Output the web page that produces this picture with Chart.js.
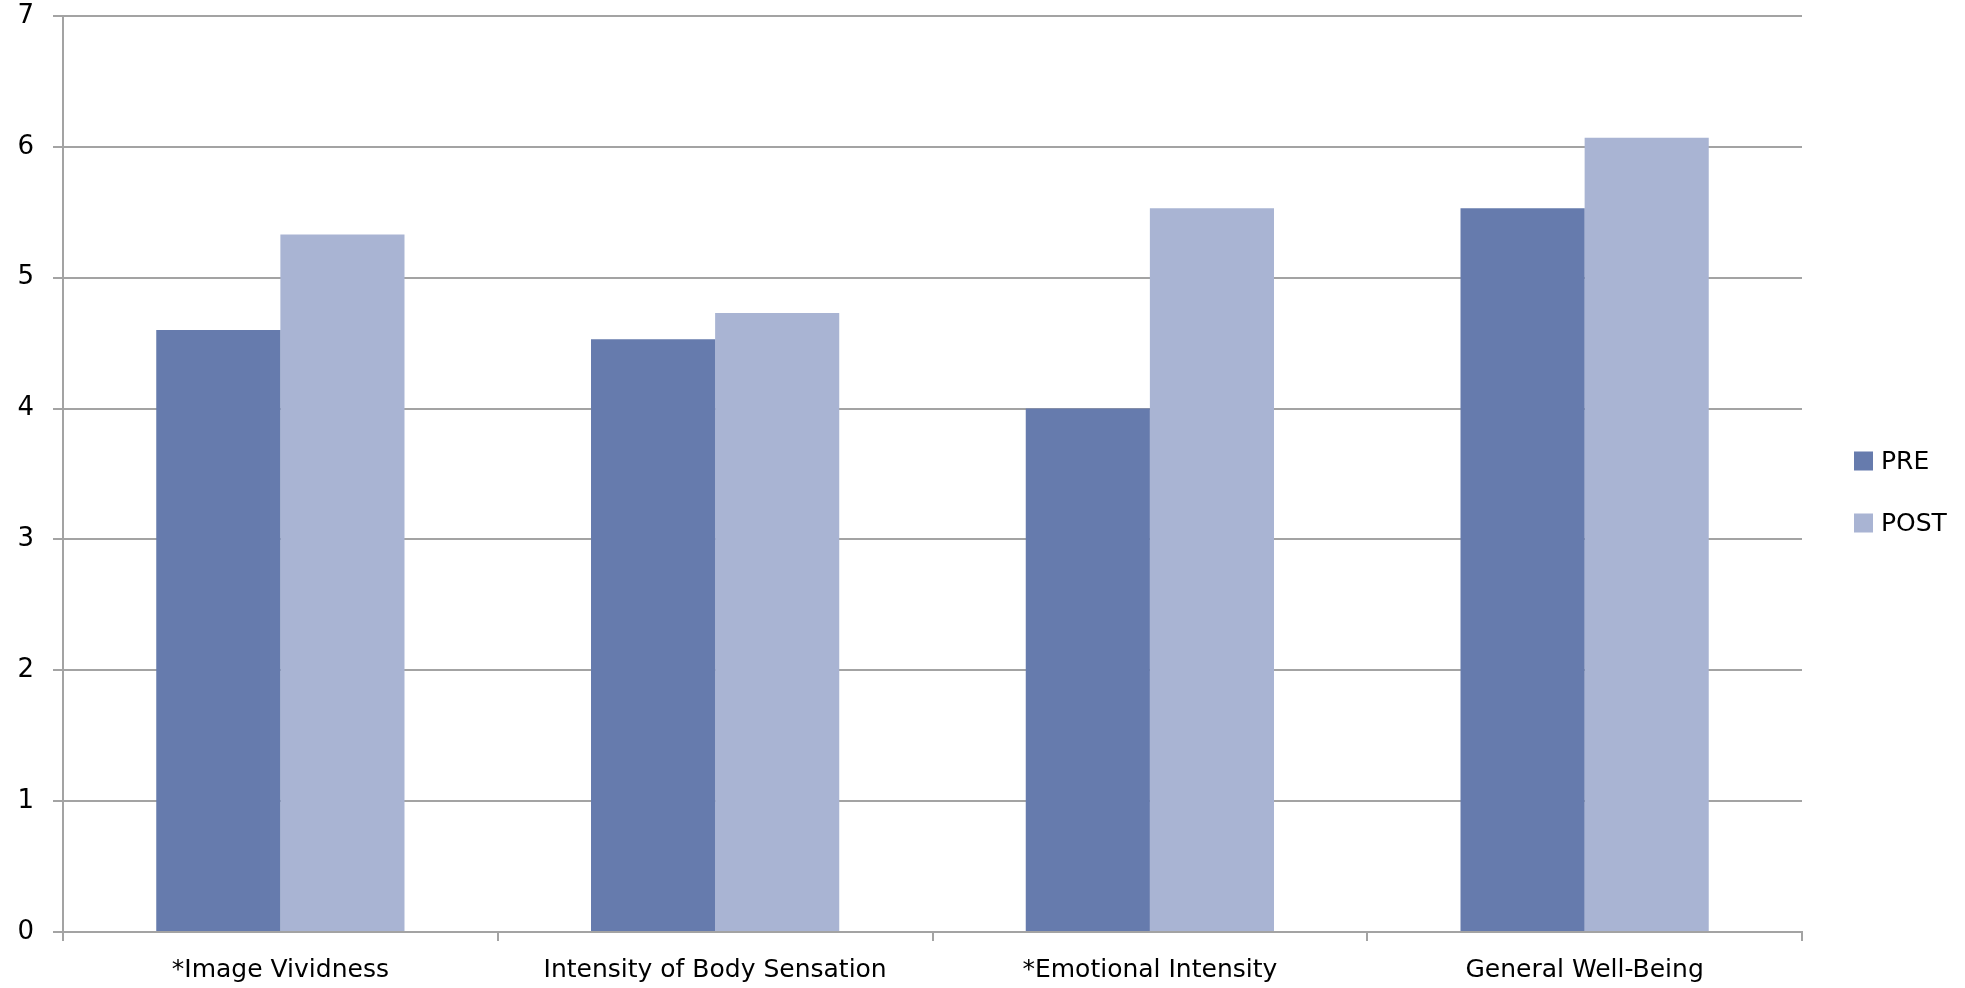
<!DOCTYPE html>
<html>
<head>
<meta charset="utf-8">
<style>
  html, body { margin: 0; padding: 0; background: #ffffff; overflow: hidden; }
  #wrap { width: 1965px; height: 988px; }
</style>
<script src="https://cdn.jsdelivr.net/npm/chart.js@4/dist/chart.umd.min.js"></script>
</head>
<body>
<div id="wrap"><canvas id="chart" width="1965" height="988"></canvas></div>
<script>
// Mean ratings before and after, per measure
const categories = ['*Image Vividness', 'Intensity of Body Sensation', '*Emotional Intensity', 'General Well-Being'];
const seriesNames = ['PRE', 'POST'];
const preScores = [4.60, 4.53, 4.00, 5.53];
const postScores = [5.33, 4.73, 5.53, 6.07];
const yTicks = [0, 1, 2, 3, 4, 5, 6, 7];

const seriesColors = ['#667bad', '#a9b4d3'];
const gridColor = '#a3a3a3';
const fontFamily = '"DejaVu Sans", "Liberation Sans", sans-serif';

// Legend drawn at the right, one row per dataset
const sideLegend = {
  id: 'sideLegend',
  afterDraw(chart) {
    const ctx = chart.ctx;
    const box = 19, x = 1854, firstY = 461, step = 62;
    ctx.save();
    ctx.font = '25px ' + fontFamily;
    ctx.textBaseline = 'middle';
    ctx.textAlign = 'left';
    chart.data.datasets.forEach((ds, i) => {
      const cy = firstY + i * step;
      ctx.fillStyle = ds.backgroundColor;
      ctx.fillRect(x, cy - box / 2, box, box);
      ctx.fillStyle = '#000000';
      ctx.fillText(ds.label, x + box + 8, cy + 1);
    });
    ctx.restore();
  }
};

new Chart(document.getElementById('chart'), {
  type: 'bar',
  data: {
    labels: categories,
    datasets: [
      { label: seriesNames[0], data: preScores, backgroundColor: seriesColors[0] },
      { label: seriesNames[1], data: postScores, backgroundColor: seriesColors[1] }
    ]
  },
  options: {
    responsive: false,
    animation: false,
    devicePixelRatio: 1,
    layout: { padding: { left: 17, right: 163, top: 16, bottom: 0 } },
    datasets: {
      bar: { categoryPercentage: 0.571, barPercentage: 1.0, borderWidth: 0 }
    },
    plugins: {
      legend: { display: false },
      tooltip: { enabled: false }
    },
    scales: {
      x: {
        afterFit(scale) {
          scale.height = 56;
          scale.paddingLeft = 0;
          scale.paddingRight = 0;
        },
        grid: {
          display: true,
          drawOnChartArea: false,
          drawTicks: true,
          tickLength: 9,
          color: gridColor,
          lineWidth: 2,
          offset: true
        },
        border: { display: true, color: gridColor, width: 2 },
        ticks: {
          color: '#000000',
          font: { family: fontFamily, size: 25 },
          padding: 14,
          maxRotation: 0,
          autoSkip: false
        }
      },
      y: {
        min: 0,
        max: 7,
        afterFit(scale) {
          scale.width = 46;
          scale.paddingTop = 0;
          scale.paddingBottom = 0;
        },
        afterBuildTicks(scale) { scale.ticks = yTicks.map(v => ({ value: v })); },
        grid: {
          color: gridColor,
          lineWidth: 2,
          drawTicks: true,
          tickLength: 10
        },
        border: { display: true, color: gridColor, width: 2 },
        ticks: {
          color: '#000000',
          font: { family: fontFamily, size: 26 },
          padding: 19
        }
      }
    }
  },
  plugins: [sideLegend]
});
</script>
</body>
</html>
